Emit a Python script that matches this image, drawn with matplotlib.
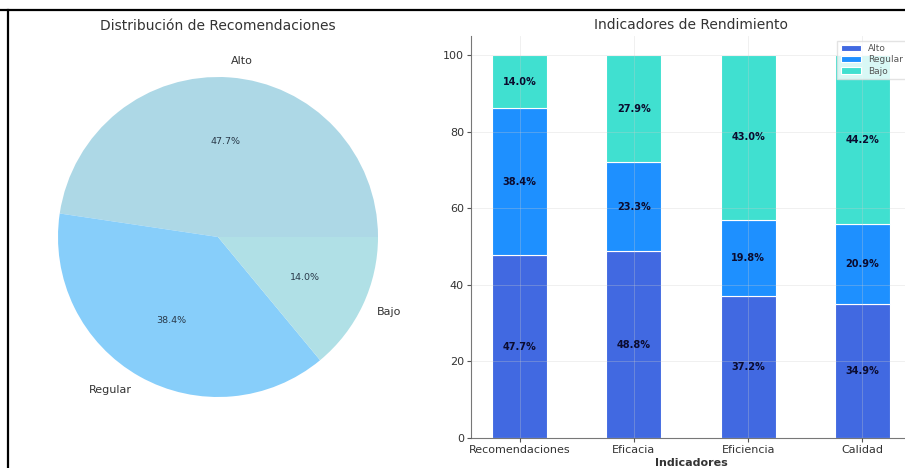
import numpy as np
import matplotlib.pyplot as plt
from matplotlib.lines import Line2D

# pie: overall distribution of recommendations
pie_labels = ['Alto', 'Regular', 'Bajo']
pie_values = [47.7, 38.4, 14.0]
pie_colors = ['#ADD8E6', '#87CEFA', '#B0E0E6']

# stacked bars: performance indicators (%)
indicadores = ['Recomendaciones', 'Eficacia', 'Eficiencia', 'Calidad']
alto = [47.7, 48.8, 37.2, 34.9]
regular = [38.4, 23.3, 19.8, 20.9]
bajo = [14.0, 27.9, 43.0, 44.2]
bar_colors = ['#4169E1', '#1E90FF', '#40E0D0']

W, H = 905, 468
fig = plt.figure(figsize=(W / 100, H / 100), dpi=100)

# --- pie ---
ax1 = fig.add_axes([(218 - 200) / W, 1 - (237 + 200) / H, 400 / W, 400 / H])
wedges, texts, autotexts = ax1.pie(pie_values, labels=pie_labels, colors=pie_colors,
                                   autopct='%1.1f%%', startangle=0,
                                   textprops={'fontsize': 8, 'color': '#333333'})
for t in autotexts:
    t.set_fontsize(6.8)
    t.set_color('#2a3a4a')
ax1.set_title('Distribución de Recomendaciones', fontsize=10, color='#333333', pad=5)

# --- stacked bars ---
ax2 = fig.add_axes([471 / W, 1 - 438 / H, 440 / W, (438 - 36) / H])
x = np.arange(len(indicadores))
w = 0.48
bottoms = np.zeros(len(indicadores))
for vals, name, col in zip([alto, regular, bajo], pie_labels, bar_colors):
    vals = np.array(vals)
    ax2.bar(x, vals, w, bottom=bottoms, color=col, label=name,
            edgecolor='white', linewidth=0.8)
    for xi, b, v in zip(x, bottoms, vals):
        ax2.text(xi, b + v / 2, f'{v:.1f}%', ha='center', va='center',
                 fontsize=7, fontweight='bold', color='#0b0b2e')
    bottoms += vals

ax2.set_xticks(x)
ax2.set_xticklabels(indicadores)
ax2.set_yticks([0, 20, 40, 60, 80, 100])
ax2.set_xlim(-0.425, 3.425)
ax2.set_ylim(0, 105)
ax2.set_title('Indicadores de Rendimiento', fontsize=10, color='#333333', pad=5)
ax2.set_xlabel('Indicadores', fontsize=8, fontweight='bold', color='#333333', labelpad=2)
ax2.tick_params(labelsize=8, colors='#555555', labelcolor='#333333', length=3, pad=2)
ax2.grid(True, color='#cccccc', linewidth=0.6, alpha=0.35)
ax2.set_axisbelow(False)
for s in ['top', 'right']:
    ax2.spines[s].set_visible(False)
for s in ['left', 'bottom']:
    ax2.spines[s].set_color('#777777')
    ax2.spines[s].set_linewidth(0.8)
leg = ax2.legend(loc='upper right', fontsize=6.5, frameon=True, borderpad=0.4,
                 handlelength=2.2, labelspacing=0.25, fancybox=False)
leg.get_frame().set_edgecolor('#dddddd')
for t in leg.get_texts():
    t.set_color('#555555')

# outer frame
fig.add_artist(Line2D([0, 1], [1 - 10 / H, 1 - 10 / H], color='black', linewidth=1.6,
                      transform=fig.transFigure))
fig.add_artist(Line2D([8 / W, 8 / W], [0, 1 - 10 / H], color='black', linewidth=1.6,
                      transform=fig.transFigure))

fig.savefig('out.png', dpi=100)
